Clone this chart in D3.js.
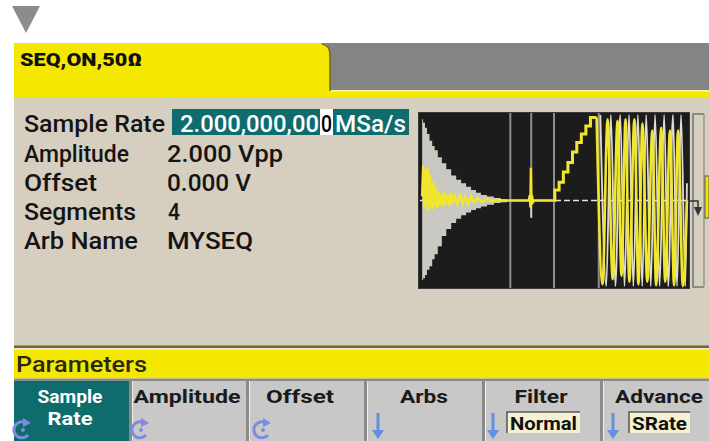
<!DOCTYPE html>
<html><head><meta charset="utf-8">
<script src="https://cdn.jsdelivr.net/npm/d3@7"></script>
<style>html,body{margin:0;padding:0;background:#fff;}svg{display:block;}</style>
</head><body>
<svg id="c" width="709" height="441"></svg>
<script>
// ---------- text data ----------
const headerText = "SEQ,ON,50Ω";
const paramLabels = ["Sample Rate", "Amplitude", "Offset", "Segments", "Arb Name"];
const paramValues = ["2.000,000,000MSa/s", "2.000 Vpp", "0.000 V", "4", "MYSEQ"];
const menuTitle = "Parameters";
const softkeyLabels = [["Sample", "Rate"], ["Amplitude"], ["Offset"], ["Arbs"], ["Filter"], ["Advance"]];
const softkeyIcons = ["knob", "knob", "knob", "down", "down", "down"];
const softkeyValues = ["", "", "", "", "Normal", "SRate"];

// ---------- waveform data (t: 0..100 across preview, v: -1..1) ----------
const segmentBounds = [33.7, 50.0, 66.7];
const spikeT = 41.5;
// segment 1: decaying envelope (grey)
const envT   = [0.8, 1.5, 2.2, 3.0, 4.1, 5.0, 5.9, 7.4, 8.9, 10.7, 12.6, 14.4, 16.3, 18.1, 20.0, 21.8, 23.7, 26.3, 28.9, 31.3, 33.7];
const envTop = [0.94, 0.90, 0.84, 0.77, 0.69, 0.63, 0.58, 0.50, 0.43, 0.36, 0.29, 0.24, 0.20, 0.16, 0.12, 0.09, 0.063, 0.045, 0.03, 0.015, 0.006];
const envBot = [-0.92, -0.90, -0.86, -0.80, -0.76, -0.68, -0.62, -0.53, -0.41, -0.33, -0.26, -0.21, -0.17, -0.14, -0.11, -0.09, -0.07, -0.05, -0.03, -0.02, -0.01];
// yellow trace: noise in segment 1, flat + sinc spike in segment 2
const noiseT = [0.8, 1.2, 1.6, 2.0, 2.4, 2.8, 3.2, 3.6, 4.0, 4.4, 4.8, 5.2, 5.6, 6.0, 6.5, 7.0, 7.5, 8.0, 8.6, 9.2, 9.8, 10.4, 11.0, 11.6, 12.2, 13.0, 14.0, 15.0, 16.0, 17.0, 18.0, 19.0, 20.0, 21.5, 23.0, 25.0, 27.0, 29.0, 31.0, 40.6, 41.0, 41.2, 41.4, 41.6, 41.8, 42.1, 42.5, 50.0];
const noiseV = [0.05, 0.40, -0.10, 0.35, -0.05, 0.38, -0.12, 0.30, -0.08, 0.22, -0.10, 0.20, -0.06, 0.12, -0.08, 0.10, -0.05, 0.08, -0.07, 0.10, -0.04, 0.06, -0.06, 0.09, -0.03, 0.05, -0.04, 0.06, -0.03, 0.04, -0.04, 0.05, -0.02, 0.03, -0.02, 0.02, -0.01, 0.01, 0, 0, 0.06, -0.08, 0.38, -0.05, 0.06, -0.03, 0, 0];
const spikeDownV = -0.20;
// segment 3: staircase ramp
const stairT = [50.0, 50.3, 51.9, 53.5, 55.2, 56.9, 58.5, 60.2, 61.9, 63.6, 65.9];
const stairV = [0, 0.12, 0.21, 0.33, 0.44, 0.56, 0.67, 0.77, 0.86, 0.96, 0.96];
// segment 4: sine burst (yellow and white traces, extremes)
const sineYT = [65.9, 68.1, 70.0, 71.9, 73.7, 75.2, 76.7, 78.1, 80.0, 81.5, 83.0, 84.8, 86.7, 88.1, 90.0, 91.5, 93.3, 94.8, 96.3, 98.1, 99.6];
const sineYV = [0.96, -0.97, 0.94, -0.91, 0.92, -0.87, 0.94, -0.94, 0.94, -0.97, 0.89, -0.94, 0.81, -0.98, 0.84, -0.94, 0.81, -0.98, 0.81, -0.99, 0.0];
const sineWT = [67.3, 69.5, 71.2, 72.9, 74.7, 76.3, 78.0, 79.6, 81.3, 82.9, 84.4, 86.1, 87.7, 89.4, 91.1, 92.6, 94.4, 95.9, 97.4, 99.0, 99.6];
const sineWV = [0.99, -0.99, 0.99, -0.99, 0.99, -0.99, 0.99, -0.99, 0.99, -0.99, 0.99, -0.99, 0.99, -0.99, 0.99, -0.99, 0.99, -0.99, 0.99, -0.99, 0.2];

// ---------- drawing ----------
const svg = d3.select("#c");
const FONT = "Roboto, 'Liberation Sans', Arial, sans-serif";
const YEL = "#f5e800", BEIGE = "#d6cebe", TEAL = "#0e6c6c";

// top triangle
svg.append("path").attr("d", "M12,6 L40,6 L26,33 Z").attr("fill", "#8c8c8c");
// grey header strip
svg.append("rect").attr("x", 14).attr("y", 43).attr("width", 695).attr("height", 48).attr("fill", "#848484");
// yellow underline
svg.append("rect").attr("x", 14).attr("y", 90).attr("width", 695).attr("height", 8).attr("fill", YEL);
svg.append("rect").attr("x", 330).attr("y", 90).attr("width", 379).attr("height", 1.5).attr("fill", "#fbf3a0");
// yellow tab
svg.append("path").attr("d", "M14,43 H320 Q330,43 330,53 V97 H14 Z").attr("fill", YEL);
svg.append("path").attr("d", "M322,44 Q330,45 330,55 V91").attr("fill", "none").attr("stroke", "#6e6a20").attr("stroke-width", 1.5);
svg.append("text").attr("x", 20).attr("y", 66).attr("font-family", FONT).attr("font-weight", 900)
  .attr("font-size", 19).attr("fill", "#111").attr("textLength", 122).attr("lengthAdjust", "spacingAndGlyphs").text(headerText);

// beige content
svg.append("rect").attr("x", 14).attr("y", 97).attr("width", 695).attr("height", 250).attr("fill", BEIGE);
svg.append("rect").attr("x", 14).attr("y", 345.5).attr("width", 695).attr("height", 2.5).attr("fill", "#6f6740");
svg.append("rect").attr("x", 14).attr("y", 348).attr("width", 695).attr("height", 1.5).attr("fill", "#efe9c0");
// parameters bar
svg.append("rect").attr("x", 14).attr("y", 349.5).attr("width", 695).attr("height", 29).attr("fill", YEL);
svg.append("text").attr("x", 16).attr("y", 372).attr("font-family", FONT).attr("font-size", 22).attr("font-weight", 500)
  .attr("fill", "#2a2810").attr("textLength", 131).attr("lengthAdjust", "spacingAndGlyphs").text(menuTitle);

// parameter rows
const rowBase = [132, 161.5, 191, 220, 249];
const labelW = [141, 105, 73, 112, 114];
paramLabels.forEach((s, i) => {
  svg.append("text").attr("x", 24).attr("y", rowBase[i]).attr("font-family", FONT).attr("font-size", 23).attr("font-weight", 500)
    .attr("fill", "#141414").attr("textLength", labelW[i]).attr("lengthAdjust", "spacingAndGlyphs").text(s);
});
// sample-rate highlight
svg.append("rect").attr("x", 172).attr("y", 109).attr("width", 237).attr("height", 26).attr("fill", TEAL);
svg.append("rect").attr("x", 320).attr("y", 109).attr("width", 13).attr("height", 26).attr("fill", "#fff");
const sr = paramValues[0];
const srA = sr.slice(0, 12), srB = sr.slice(12, 13), srC = sr.slice(13);
function valText(xp, yp, w, col, s) {
  svg.append("text").attr("x", xp).attr("y", yp).attr("font-family", FONT).attr("font-size", 23).attr("font-weight", 500)
    .attr("fill", col).attr("textLength", w).attr("lengthAdjust", "spacingAndGlyphs").text(s);
}
valText(180, 132, 139, "#fff", srA);
valText(321, 132, 11, "#000", srB);
valText(335, 132, 71, "#fff", srC);
const valX = [0, 167, 167, 168, 167], valW = [0, 116, 84, 12, 86];
paramValues.slice(1).forEach((s, j) => valText(valX[j + 1], rowBase[j + 1], valW[j + 1], "#141414", s));

// ---------- waveform preview ----------
const x = d3.scaleLinear().domain([0, 100]).range([420, 688]);
const y = d3.scaleLinear().domain([-1, 1]).range([287, 114]);
svg.append("rect").attr("x", 418.5).attr("y", 112.5).attr("width", 271).attr("height", 176)
  .attr("fill", "#1c1c1c").attr("stroke", "#3a3a3a").attr("stroke-width", 1);
const g = svg.append("g");
segmentBounds.forEach(t => {
  g.append("line").attr("x1", x(t)).attr("x2", x(t)).attr("y1", 113).attr("y2", 288)
    .attr("stroke", "#8e8e8a").attr("stroke-width", 2);
});
g.append("line").attr("x1", x(spikeT)).attr("x2", x(spikeT)).attr("y1", 113).attr("y2", y(0.38))
  .attr("stroke", "#8e8e8a").attr("stroke-width", 2);
g.append("line").attr("x1", x(0)).attr("x2", x(100)).attr("y1", y(0)).attr("y2", y(0))
  .attr("stroke", "#e6e6e0").attr("stroke-width", 1.5).attr("stroke-dasharray", "6,3");
const envData = envT.map((t, i) => ({ t, top: envTop[i], bot: envBot[i] }));
g.append("path").datum(envData)
  .attr("d", d3.area().x(d => x(d.t)).y0(d => y(d.bot)).y1(d => y(d.top)).curve(d3.curveStep))
  .attr("fill", "#c9c9c2");
g.append("line").attr("x1", x(spikeT)).attr("x2", x(spikeT)).attr("y1", y(0)).attr("y2", y(spikeDownV))
  .attr("stroke", "#d8d8d2").attr("stroke-width", 2);
g.append("path").datum(sineWT.map((t, i) => [t, sineWV[i]]))
  .attr("d", d3.line().x(d => x(d[0])).y(d => y(d[1])).curve(d3.curveMonotoneX))
  .attr("fill", "none").attr("stroke", "#dedcd4").attr("stroke-width", 1.8);
const YT = "#f1e62e";
g.append("path").datum(noiseT.map((t, i) => [t, noiseV[i]]))
  .attr("d", d3.line().x(d => x(d[0])).y(d => y(d[1]))).attr("fill", "none").attr("stroke", YT).attr("stroke-width", 2.5);
g.append("path").datum(stairT.map((t, i) => [t, stairV[i]]))
  .attr("d", d3.line().x(d => x(d[0])).y(d => y(d[1])).curve(d3.curveStepAfter)).attr("fill", "none").attr("stroke", YT).attr("stroke-width", 3);
g.append("path").datum(sineYT.map((t, i) => [t, sineYV[i]]))
  .attr("d", d3.line().x(d => x(d[0])).y(d => y(d[1])).curve(d3.curveMonotoneX)).attr("fill", "none").attr("stroke", YT).attr("stroke-width", 2.6);

// right bracket, arrow, marker
svg.append("path").attr("d", "M704,114 H693 V287 H704").attr("fill", "none").attr("stroke", "#8a8a86").attr("stroke-width", 2);
svg.append("line").attr("x1", 704).attr("x2", 704).attr("y1", 114).attr("y2", 287).attr("stroke", "#9a9790").attr("stroke-width", 1.5);
svg.append("path").attr("d", "M689,201 H698 V208").attr("fill", "none").attr("stroke", "#333").attr("stroke-width", 1.5);
svg.append("path").attr("d", "M694,207 H702 L698,216 Z").attr("fill", "#333");
svg.append("rect").attr("x", 705).attr("y", 176).attr("width", 4).attr("height", 42).attr("fill", YEL).attr("stroke", "#555").attr("stroke-width", 1);

// ---------- softkeys ----------
const keyEdges = [14, 130, 247, 365, 483, 601, 709];
const keyCenters = [70, 187, 300, 424, 541, 659];
const keyTextW = [[65, 45], [107], [68], [48], [53], [88]];
svg.append("rect").attr("x", 14).attr("y", 378.5).attr("width", 695).attr("height", 62.5).attr("fill", "#8a8a8a");
softkeyLabels.forEach((lab, i) => {
  const x0 = keyEdges[i] + (i === 0 ? 0 : 2), x1 = keyEdges[i + 1] - (i === 5 ? 0 : 1);
  const active = i === 0;
  svg.append("rect").attr("x", x0).attr("y", 381).attr("width", x1 - x0).attr("height", 60)
    .attr("fill", active ? TEAL : "#c8c8c8");
  if (!active) svg.append("line").attr("x1", x0 + 0.5).attr("x2", x0 + 0.5).attr("y1", 381).attr("y2", 441).attr("stroke", "#eee").attr("stroke-width", 1);
  lab.forEach((s, k) => {
    svg.append("text").attr("x", keyCenters[i]).attr("y", 403 + k * 22).attr("text-anchor", "middle")
      .attr("font-family", FONT).attr("font-weight", 700).attr("font-size", 19)
      .attr("textLength", keyTextW[i][k]).attr("lengthAdjust", "spacingAndGlyphs")
      .attr("fill", active ? "#fff" : "#1a1a1a").text(s);
  });
  const icon = softkeyIcons[i];
  if (icon === "knob") {
    const cx = [22, 140, 262][i], cy = 430;
    const col = "#7d8be0";
    svg.append("path").attr("d", `M${cx + 4},${cy - 7} A8,8 0 1,0 ${cx + 6},${cy + 5}`)
      .attr("fill", "none").attr("stroke", col).attr("stroke-width", 3);
    svg.append("path").attr("d", `M${cx + 1},${cy - 12} L${cx + 9},${cy - 7} L${cx + 1},${cy - 3} Z`).attr("fill", col);
    svg.append("circle").attr("cx", cx + 1).attr("cy", cy).attr("r", 2).attr("fill", col);
  } else {
    const ax = [0, 0, 0, 378, 493, 613][i];
    const col = "#5f90e4";
    svg.append("line").attr("x1", ax).attr("x2", ax).attr("y1", 413).attr("y2", 432).attr("stroke", col).attr("stroke-width", 3);
    svg.append("path").attr("d", `M${ax - 6},${430} H${ax + 6} L${ax},${439} Z`).attr("fill", col);
  }
  const v = softkeyValues[i];
  if (v) {
    const bx = i === 4 ? 507 : 629, bw = i === 4 ? 73 : 61;
    svg.append("rect").attr("x", bx).attr("y", 412).attr("width", bw).attr("height", 21).attr("fill", "#f6f1d2");
    svg.append("path").attr("d", `M${bx},${433} V412 H${bx + bw}`).attr("fill", "none").attr("stroke", "#555").attr("stroke-width", 1.5);
    svg.append("text").attr("x", bx + bw / 2).attr("y", 430).attr("text-anchor", "middle").attr("font-family", FONT)
      .attr("font-weight", 700).attr("font-size", 18).attr("fill", "#111")
      .attr("textLength", bw - 6).attr("lengthAdjust", "spacingAndGlyphs").text(v);
  }
});
</script>
</body></html>
